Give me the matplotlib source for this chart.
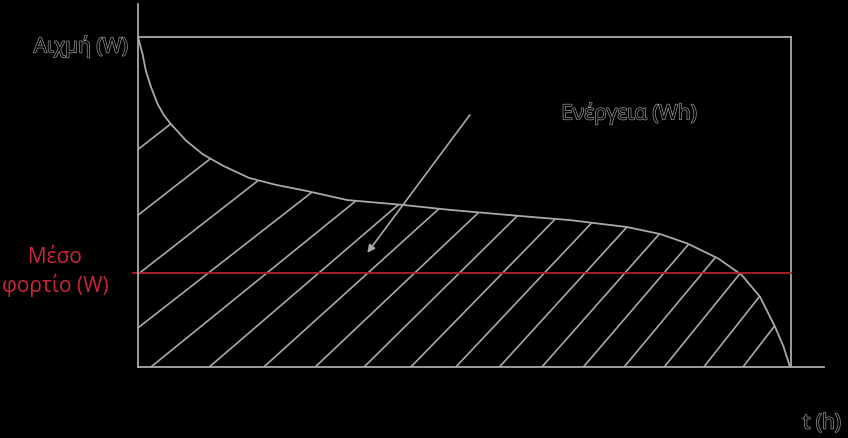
import numpy as np
import matplotlib
matplotlib.use("Agg")
import matplotlib.pyplot as plt
from matplotlib.patches import Polygon
import matplotlib.patheffects as pe

# ---- data ----
t_hours = [0, 0.7, 1.2, 2.0, 3.0, 4.0, 5.05, 7.35, 9.9, 13.0, 17.0, 21.1,
           25.7, 32, 40.6, 47.8, 60, 66.2, 74.9, 79.9, 84.0, 88.8, 92.4,
           95.2, 97.5, 98.8, 99.8]
power_w = [100, 94.8, 89.8, 84.8, 79.7, 76.2, 73.6, 68.6, 64.5, 61.0, 57.3,
           55.2, 53.4, 50.6, 49.1, 47.6, 45.5, 44.5, 42.4, 40.3, 37.5, 32.9,
           27.9, 21.3, 12.2, 6.2, 0]
avg_load = 28.4
label_peak = "Αιχμή (W)"
label_avg = "Μέσο\nφορτίο (W)"
label_energy = "Ενέργεια (Wh)"
label_time = "t (h)"

# ---- style ----
BG = "black"
LINE = "#a9a9a9"
RED_LINE = "#b3202a"
RED_TEXT = "#c8283a"
FONT = ["Open Sans", "DejaVu Sans"]
FS = 15
halo = [pe.withStroke(linewidth=1.0, foreground="#9a9a9a")]

fig = plt.figure(figsize=(8.48, 4.38), dpi=100, facecolor=BG)
ax = fig.add_axes([138 / 848, 71 / 438, 686 / 848, 363 / 438])
ax.set_facecolor(BG)
ax.set_xlim(0, 105)
ax.set_ylim(0, 110)
for s in ["top", "right"]:
    ax.spines[s].set_visible(False)
for s in ["left", "bottom"]:
    ax.spines[s].set_color(LINE)
    ax.spines[s].set_linewidth(1.3)
ax.set_xticks([])
ax.set_yticks([])

peak = power_w[0]
box_right = 100

# frame box
ax.plot([0, box_right], [peak, peak], color=LINE, lw=1.3)
ax.plot([box_right, box_right], [0, peak], color=LINE, lw=1.3)

# load curve
ax.plot(t_hours, power_w, color=LINE, lw=1.3, solid_joinstyle="round")

# hatched energy region
verts = list(zip(t_hours, power_w)) + [(t_hours[-1], 0), (0, 0)]
region = Polygon(verts, closed=True, facecolor="none", edgecolor="none",
                 transform=ax.transData)
ax.add_patch(region)
n = 18
idx = np.arange(n - 1)
spacing = 5.7 + 7.2 * np.exp(-idx / 5.0)
x0 = -42.7 + np.concatenate([[0], np.cumsum(spacing)])
slope_px = np.clip(0.8 + 0.5 * x0 / 93.0, 0.78, 1.3)
slope = slope_px * (6.533 / 3.3)
for xb, sl in zip(x0, slope):
    ln, = ax.plot([xb, xb + 120 / sl], [0, 120], color=LINE, lw=1.2)
    ln.set_clip_path(region)

# average load line
ax.plot([-0.8, box_right], [avg_load, avg_load], color=RED_LINE, lw=1.3,
        clip_on=False)

# arrow
ax.annotate("", xy=(35.1, 34.6), xytext=(50.8, 76.4),
            arrowprops=dict(arrowstyle="-|>", color=LINE, lw=1.2,
                            mutation_scale=11, shrinkA=0, shrinkB=0))

# texts
ax.text(-1.5, 97.3, label_peak, ha="right", va="center", fontsize=FS,
        color="black", family=FONT, path_effects=halo, clip_on=False)
ax.text(-12.7, 28.8, label_avg, ha="center", va="center", fontsize=FS,
        color=RED_TEXT, family=FONT, multialignment="center",
        linespacing=1.3, clip_on=False)
ax.text(75.2, 77, label_energy, ha="center", va="center", fontsize=FS,
        color="black", family=FONT, path_effects=halo, clip_on=False)
ax.text(104.7, -17, label_time, ha="center", va="center", fontsize=FS,
        color="black", family=FONT, path_effects=halo, clip_on=False)

fig.savefig("out.png", dpi=100, facecolor=BG)
